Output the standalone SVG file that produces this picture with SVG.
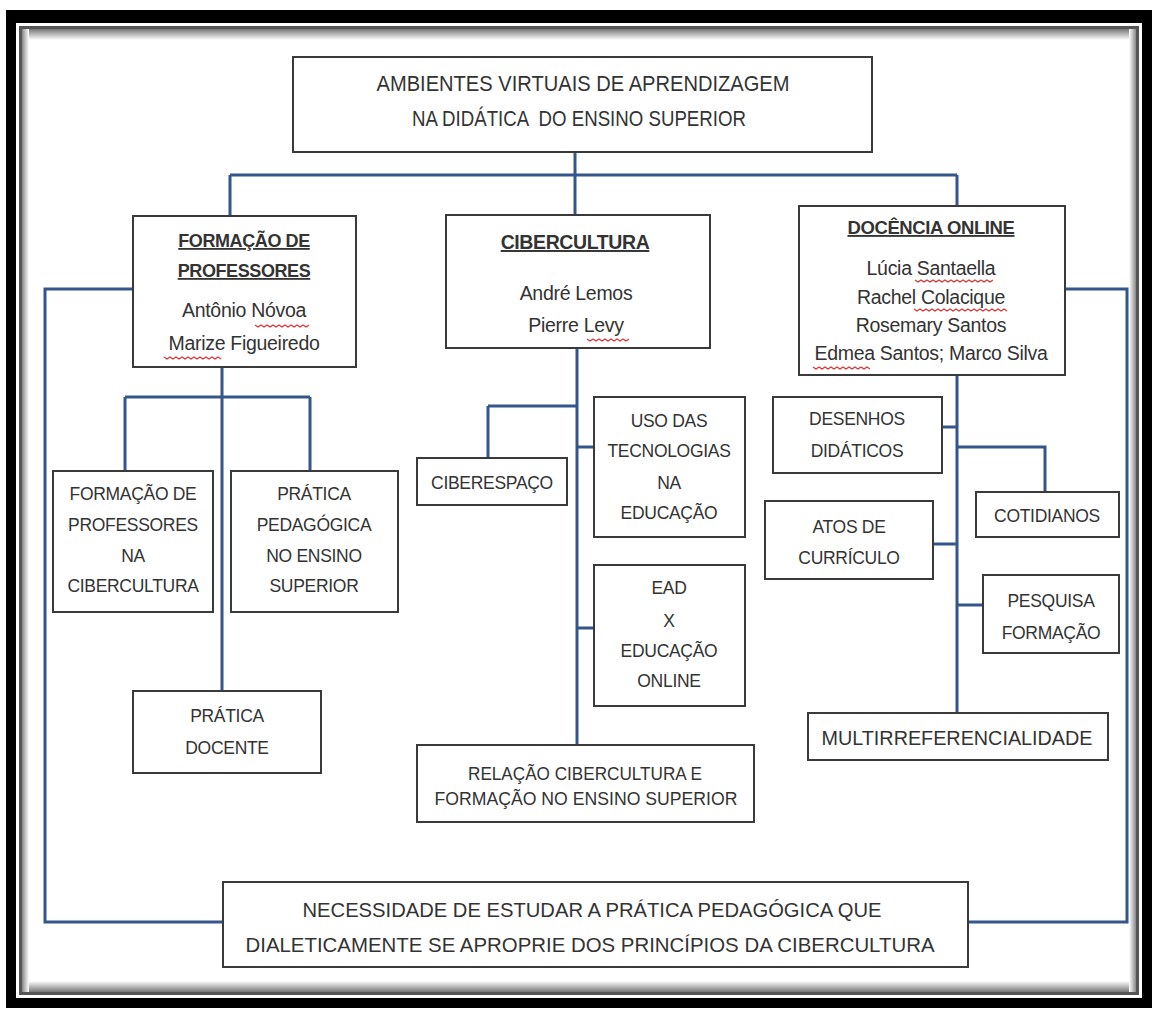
<svg xmlns="http://www.w3.org/2000/svg" width="1158" height="1012" viewBox="0 0 1158 1012">
<style>
.box{fill:#fff;stroke:#3a3a3a;stroke-width:2}
.c{fill:none;stroke:#35568a;stroke-width:3}
.t{font-family:"Liberation Sans",Arial,sans-serif;fill:#333;text-anchor:middle}
.s{font-size:17.5px;letter-spacing:-0.3px}
.n{font-size:19.5px;letter-spacing:-0.3px}
.h{font-weight:bold;text-decoration:underline;letter-spacing:-0.4px}
.w{fill:none;stroke:#d33;stroke-width:1.2}
</style>
<defs>
<linearGradient id="gT" x1="0" y1="0" x2="0" y2="1"><stop offset="0" stop-color="#777"/><stop offset="1" stop-color="#fff"/></linearGradient>
<linearGradient id="gB" x1="0" y1="1" x2="0" y2="0"><stop offset="0" stop-color="#777"/><stop offset="1" stop-color="#fff"/></linearGradient>
<linearGradient id="gL" x1="0" y1="0" x2="1" y2="0"><stop offset="0" stop-color="#888"/><stop offset="1" stop-color="#fff"/></linearGradient>
<linearGradient id="gR" x1="1" y1="0" x2="0" y2="0"><stop offset="0" stop-color="#888"/><stop offset="1" stop-color="#fff"/></linearGradient>
</defs>
<rect width="1158" height="1012" fill="#fff"/>
<g id="frame">
<rect x="6" y="10" width="1146" height="998" fill="#000"/>
<rect x="16" y="23" width="1126" height="975" fill="#fff"/>
<rect x="20.5" y="27.5" width="1117" height="966" fill="#fff" stroke="#555" stroke-width="3"/>
<rect x="22" y="29" width="1114" height="11" fill="url(#gT)"/>
<rect x="22" y="981" width="1114" height="11" fill="url(#gB)"/>
<rect x="22" y="29" width="7" height="963" fill="url(#gL)"/>
<rect x="1129" y="29" width="7" height="963" fill="url(#gR)"/>
</g>
<g id="connectors">
<path class="c" d="M575 152V175M230 175H957M230 175V216M575 175V215M957 175V206"/>
<path class="c" d="M133 289H45V922H223"/>
<path class="c" d="M1065 289H1127V922H968"/>
<path class="c" d="M222 367V691M125 397H310M125 397V471M310 397V471"/>
<path class="c" d="M577 348V745M488 406H577M488 406V458M577 447H594M577 628H594"/>
<path class="c" d="M957 375V713M942 427H957M957 447H1045V492M933 544H957M957 605H983"/>
</g>
<g id="n-top">
<rect class="box" x="293" y="57" width="579" height="95"/>
<text class="t" x="583" y="91" font-size="22" textLength="413" lengthAdjust="spacingAndGlyphs">AMBIENTES VIRTUAIS DE APRENDIZAGEM</text>
<text class="t" x="579" y="126" font-size="22" textLength="334" lengthAdjust="spacingAndGlyphs" xml:space="preserve">NA DIDÁTICA  DO ENSINO SUPERIOR</text>
</g>
<g id="n-formacao">
<rect class="box" x="133" y="216" width="223" height="151"/>
<text class="t h" x="244" y="247" font-size="18">FORMAÇÃO DE</text>
<text class="t h" x="244" y="277" font-size="18">PROFESSORES</text>
<text class="t n" x="244" y="317">Antônio Nóvoa</text>
<text class="t n" x="244" y="350">Marize Figueiredo</text>
<path class="w" d="M255 325l3 2 3-2 3 2 3-2 3 2 3-2 3 2 3-2 3 2 3-2 3 2 3-2 3 2 3-2 3 2 3-2 3 2 3-2"/>
<path class="w" d="M164 357l3 2 3-2 3 2 3-2 3 2 3-2 3 2 3-2 3 2 3-2 3 2 3-2 3 2 3-2 3 2 3-2 3 2 3-2 3 2"/>
</g>
<g id="n-ciber">
<rect class="box" x="446" y="215" width="264" height="133"/>
<text class="t h" x="575" y="249" font-size="19.5">CIBERCULTURA</text>
<text class="t n" x="576" y="300">André Lemos</text>
<text class="t n" x="576" y="332">Pierre Levy</text>
<path class="w" d="M587 339l3 2 3-2 3 2 3-2 3 2 3-2 3 2 3-2 3 2 3-2 3 2 3-2 3 2 3-2"/>
</g>
<g id="n-docencia">
<rect class="box" x="799" y="206" width="266" height="169"/>
<text class="t h" x="931" y="234" font-size="18.5">DOCÊNCIA ONLINE</text>
<text class="t n" x="931" y="275">Lúcia Santaella</text>
<text class="t n" x="931" y="304">Rachel Colacique</text>
<text class="t n" x="931" y="332">Rosemary Santos</text>
<text class="t n" x="931" y="360">Edmea Santos; Marco Silva</text>
<path class="w" d="M915 280l3 2 3-2 3 2 3-2 3 2 3-2 3 2 3-2 3 2 3-2 3 2 3-2 3 2 3-2 3 2 3-2 3 2 3-2 3 2 3-2 3 2 3-2 3 2 3-2 3 2 3-2"/>
<path class="w" d="M914 309l3 2 3-2 3 2 3-2 3 2 3-2 3 2 3-2 3 2 3-2 3 2 3-2 3 2 3-2 3 2 3-2 3 2 3-2 3 2 3-2 3 2 3-2 3 2 3-2 3 2 3-2 3 2 3-2 3 2 3-2 3 2"/>
<path class="w" d="M813 367l3 2 3-2 3 2 3-2 3 2 3-2 3 2 3-2 3 2 3-2 3 2 3-2 3 2 3-2 3 2 3-2 3 2 3-2 3 2"/>
</g>
<g id="n-fpc">
<rect class="box" x="53" y="471" width="160" height="141"/>
<text class="t s" x="133" y="500">FORMAÇÃO DE</text>
<text class="t s" x="133" y="531">PROFESSORES</text>
<text class="t s" x="133" y="562">NA</text>
<text class="t s" x="133" y="592">CIBERCULTURA</text>
</g>
<g id="n-ppes">
<rect class="box" x="231" y="471" width="167" height="141"/>
<text class="t s" x="314" y="500">PRÁTICA</text>
<text class="t s" x="314" y="531">PEDAGÓGICA</text>
<text class="t s" x="314" y="562">NO ENSINO</text>
<text class="t s" x="314" y="592">SUPERIOR</text>
</g>
<g id="n-pd">
<rect class="box" x="133" y="691" width="188" height="82"/>
<text class="t s" x="227" y="722">PRÁTICA</text>
<text class="t s" x="227" y="754">DOCENTE</text>
</g>
<g id="n-ciberespaco">
<rect class="box" x="417" y="458" width="150" height="47"/>
<text class="t s" x="492" y="489">CIBERESPAÇO</text>
</g>
<g id="n-uso">
<rect class="box" x="594" y="397" width="151" height="140"/>
<text class="t s" x="669" y="427">USO DAS</text>
<text class="t s" x="669" y="457">TECNOLOGIAS</text>
<text class="t s" x="669" y="489">NA</text>
<text class="t s" x="669" y="519">EDUCAÇÃO</text>
</g>
<g id="n-ead">
<rect class="box" x="594" y="565" width="151" height="141"/>
<text class="t s" x="669" y="594">EAD</text>
<text class="t s" x="669" y="627">X</text>
<text class="t s" x="669" y="657">EDUCAÇÃO</text>
<text class="t s" x="669" y="687">ONLINE</text>
</g>
<g id="n-relacao">
<rect class="box" x="417" y="745" width="337" height="77"/>
<text class="t" x="585" y="780" font-size="18.5" textLength="234" lengthAdjust="spacingAndGlyphs">RELAÇÃO CIBERCULTURA E</text>
<text class="t" x="586" y="805" font-size="18.5" textLength="303" lengthAdjust="spacingAndGlyphs">FORMAÇÃO NO ENSINO SUPERIOR</text>
</g>
<g id="n-desenhos">
<rect class="box" x="773" y="397" width="169" height="76"/>
<text class="t s" x="857" y="425">DESENHOS</text>
<text class="t s" x="857" y="457">DIDÁTICOS</text>
</g>
<g id="n-cotidianos">
<rect class="box" x="976" y="492" width="143" height="45"/>
<text class="t s" x="1047" y="522">COTIDIANOS</text>
</g>
<g id="n-atos">
<rect class="box" x="765" y="501" width="168" height="78"/>
<text class="t s" x="849" y="533">ATOS DE</text>
<text class="t s" x="849" y="564">CURRÍCULO</text>
</g>
<g id="n-pesquisa">
<rect class="box" x="983" y="575" width="136" height="78"/>
<text class="t s" x="1051" y="607">PESQUISA</text>
<text class="t s" x="1051" y="639">FORMAÇÃO</text>
</g>
<g id="n-multi">
<rect class="box" x="808" y="713" width="300" height="47"/>
<text class="t" x="957" y="745" font-size="20.5" textLength="271" lengthAdjust="spacingAndGlyphs">MULTIRREFERENCIALIDADE</text>
</g>
<g id="n-bottom">
<rect class="box" x="223" y="882" width="745" height="85"/>
<text class="t" x="592" y="917" font-size="21" textLength="579" lengthAdjust="spacingAndGlyphs">NECESSIDADE DE ESTUDAR A PRÁTICA PEDAGÓGICA QUE</text>
<text class="t" x="590" y="952" font-size="21" textLength="689" lengthAdjust="spacingAndGlyphs">DIALETICAMENTE SE APROPRIE DOS PRINCÍPIOS DA CIBERCULTURA</text>
</g>
</svg>
